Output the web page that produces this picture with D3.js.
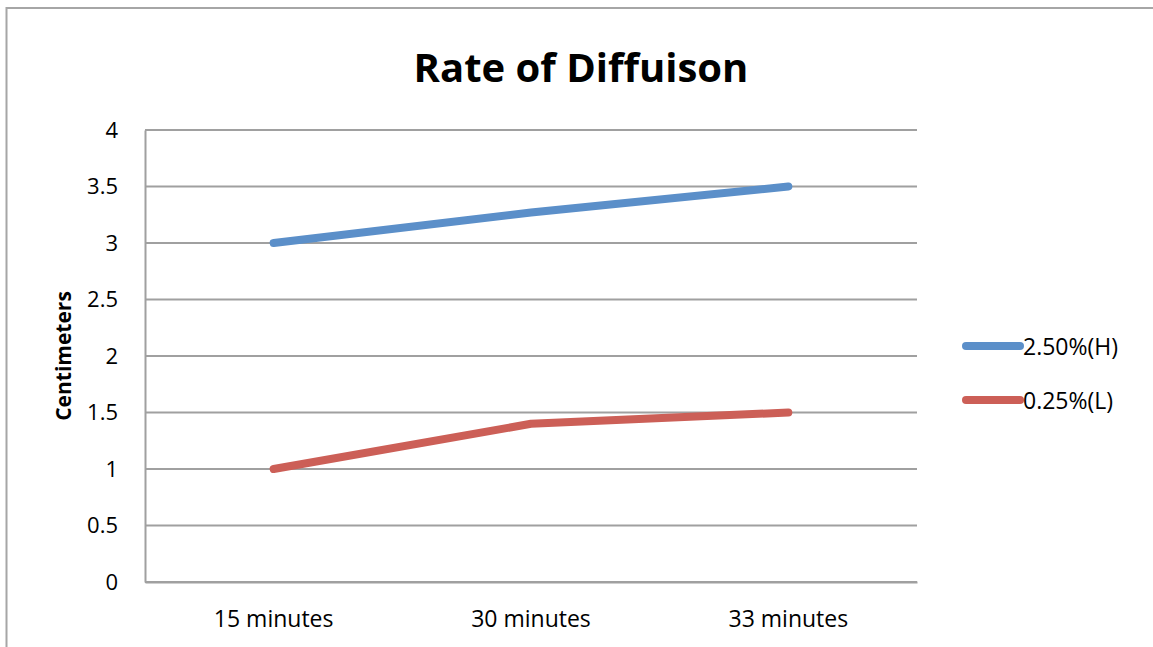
<!DOCTYPE html>
<html>
<head>
<meta charset="utf-8">
<script src="https://cdn.jsdelivr.net/npm/d3@7.9.0/dist/d3.min.js"></script>
<style>
  body { margin: 0; background: #fff; }
  text { font-family: "Open Sans", "Noto Sans", sans-serif; fill: #000; }
</style>
</head>
<body>
<div id="chart"></div>
<script>
// chart data
const categories = ["15 minutes", "30 minutes", "33 minutes"];
const highValues = [3, 3.27, 3.5];
const lowValues = [1, 1.4, 1.5];
const seriesNames = ["2.50%(H)", "0.25%(L)"];
const yTicks = [0, 0.5, 1, 1.5, 2, 2.5, 3, 3.5, 4];

const width = 1153;
const height = 647;

const plot = { left: 145, right: 917, top: 130, bottom: 582 };

const svg = d3.select("#chart")
    .append("svg")
    .attr("width", width)
    .attr("height", height);

// outer chart border (runs past the right/bottom edge in the picture)
svg.append("rect")
    .attr("x", 6.5)
    .attr("y", 8)
    .attr("width", width + 20)
    .attr("height", height + 20)
    .attr("fill", "none")
    .attr("stroke", "#a6a6a6")
    .attr("stroke-width", 2);

// scales
const xScale = d3.scaleBand()
    .domain(categories)
    .range([plot.left, plot.right]);

const yScale = d3.scaleLinear()
    .domain([0, 4])
    .range([plot.bottom, plot.top]);

// gridlines
svg.append("g")
    .selectAll("line")
    .data(yTicks)
    .enter()
    .append("line")
    .attr("x1", plot.left)
    .attr("x2", plot.right)
    .attr("y1", d => yScale(d))
    .attr("y2", d => yScale(d))
    .attr("stroke", "#a0a0a0")
    .attr("stroke-width", 2);

// y axis
const yAxis = d3.axisLeft(yScale)
    .tickValues(yTicks)
    .tickSize(0)
    .tickPadding(27)
    .tickFormat(d => d);

const yG = svg.append("g")
    .attr("transform", `translate(${plot.left},0)`)
    .call(yAxis);
yG.select(".domain").attr("stroke", "#a0a0a0").attr("stroke-width", 2);
yG.selectAll("text").style("font-size", "22px").attr("fill", "#000");

// x axis
const xAxis = d3.axisBottom(xScale)
    .tickSize(0)
    .tickPadding(29);

const xG = svg.append("g")
    .attr("transform", `translate(0,${plot.bottom})`)
    .call(xAxis);
xG.select(".domain").attr("stroke", "#a0a0a0").attr("stroke-width", 2);
xG.selectAll("text").style("font-size", "23px").attr("fill", "#000");

// lines
const line = d3.line()
    .x((d, i) => xScale(categories[i]) + xScale.bandwidth() / 2)
    .y(d => yScale(d));

const colors = ["#5b8fc9", "#cc5f57"];
[highValues, lowValues].forEach((vals, k) => {
    svg.append("path")
        .datum(vals)
        .attr("fill", "none")
        .attr("stroke", colors[k])
        .attr("stroke-width", 8)
        .attr("stroke-linecap", "round")
        .attr("stroke-linejoin", "round")
        .attr("d", line);
});

// title
svg.append("text")
    .attr("x", 581)
    .attr("y", 82)
    .attr("text-anchor", "middle")
    .style("font-size", "40px")
    .style("font-weight", "bold")
    .text("Rate of Diffuison");

// y axis title
svg.append("text")
    .attr("transform", "translate(71,356) rotate(-90)")
    .attr("text-anchor", "middle")
    .style("font-size", "21px")
    .style("font-weight", "bold")
    .text("Centimeters");

// legend
const legend = svg.append("g")
    .selectAll("g")
    .data(seriesNames)
    .enter()
    .append("g")
    .attr("transform", (d, i) => `translate(966,${346 + i * 54})`);

legend.append("line")
    .attr("x1", 0)
    .attr("x2", 54)
    .attr("stroke", (d, i) => colors[i])
    .attr("stroke-width", 8)
    .attr("stroke-linecap", "round");

legend.append("text")
    .attr("x", 57)
    .attr("y", 9)
    .style("font-size", "23px")
    .text(d => d);
</script>
</body>
</html>
